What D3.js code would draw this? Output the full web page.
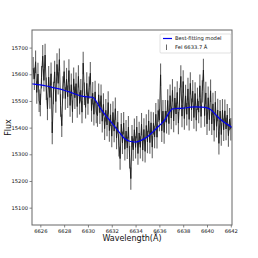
<!DOCTYPE html>
<html>
<head>
<meta charset="utf-8">
<script src="https://cdn.jsdelivr.net/npm/d3@7"></script>
<style>
  body { margin: 0; background: #fff; }
  text { font-family: "DejaVu Sans", sans-serif; }
</style>
</head>
<body>
<div id="chart"></div>
<script>
// spectrum, sampled every 0.1 A from 6625.4
var waveStart = 6625.4;
var waveStep = 0.1;
var flux = [
  15623, 15583, 15647, 15532, 15601, 15501, 15485, 15589, 15668, 15577,
  15672, 15546, 15470, 15589, 15513, 15602, 15380, 15530, 15609, 15498,
  15637, 15566, 15655, 15483, 15407, 15551, 15610, 15509, 15582, 15516,
  15614, 15483, 15561, 15460, 15583, 15512, 15565, 15479, 15592, 15491,
  15540, 15458, 15642, 15527, 15476, 15566, 15490, 15550, 15604, 15464,
  15529, 15450, 15534, 15458, 15445, 15523, 15456, 15520, 15424, 15487,
  15396, 15465, 15410, 15494, 15389, 15448, 15368, 15457, 15387, 15471,
  15361, 15420, 15334, 15284, 15413, 15343, 15417, 15319, 15387, 15324,
  15402, 15289, 15209, 15368, 15317, 15392, 15326, 15402, 15303, 15380,
  15326, 15413, 15316, 15393, 15311, 15408, 15346, 15425, 15344, 15418,
  15327, 15416, 15365, 15450, 15364, 15464, 15428, 15598, 15388, 15462,
  15382, 15462, 15420, 15502, 15415, 15520, 15436, 15540, 15425, 15511,
  15451, 15532, 15417, 15507, 15592, 15443, 15573, 15434, 15519, 15450,
  15545, 15431, 15566, 15467, 15537, 15438, 15528, 15428, 15508, 15458,
  15557, 15442, 15536, 15616, 15445, 15530, 15414, 15512, 15430, 15538,
  15414, 15489, 15390, 15495, 15405, 15466, 15341, 15462, 15374, 15465,
  15392, 15463, 15395, 15447, 15370, 15432, 15394
];
var fluxErr = 42;

// best-fitting model
var modelWave = [6625.3, 6625.5, 6626.0, 6626.5, 6627.0, 6627.5, 6628.0, 6628.5, 6629.0, 6629.5,
  6630.0, 6630.4, 6630.7, 6631.0, 6631.5, 6632.0, 6632.5, 6633.0, 6633.5, 6634.0,
  6634.5, 6635.0, 6635.5, 6636.0, 6636.5, 6636.8, 6637.1, 6637.5, 6638.0, 6638.5,
  6639.0, 6639.5, 6640.0, 6640.3, 6640.7, 6641.0, 6641.5, 6642.0, 6642.1];
var modelFlux = [15564, 15563, 15560, 15556, 15551, 15546, 15540, 15533, 15525, 15518,
  15515, 15514, 15498, 15476, 15445, 15418, 15390, 15362, 15349, 15346,
  15353, 15366, 15386, 15408, 15432, 15455, 15470, 15472, 15473, 15476,
  15478, 15477, 15474, 15468, 15450, 15436, 15418, 15404, 15400];

var xTicks = [6626, 6628, 6630, 6632, 6634, 6636, 6638, 6640, 6642];
var yTicks = [15100, 15200, 15300, 15400, 15500, 15600, 15700];

var w = 258;
var h = 258;
var margin = {left: 32, right: 26, top: 30, bottom: 33};

var svg = d3.select("#chart")
            .append("svg")
            .attr("width", w)
            .attr("height", h);

var x = d3.scaleLinear()
          .domain([6625.3, 6642.1])
          .range([margin.left, w - margin.right]);
var y = d3.scaleLinear()
          .domain([15035, 15766])
          .range([h - margin.bottom, margin.top]);

var points = flux.map(function(f, i) {
  return {wave: waveStart + i * waveStep, flux: f};
});

svg.append("defs").append("clipPath")
  .attr("id", "plot-clip")
  .append("rect")
  .attr("x", margin.left)
  .attr("y", margin.top)
  .attr("width", w - margin.left - margin.right)
  .attr("height", h - margin.top - margin.bottom);

var plot = svg.append("g").attr("clip-path", "url(#plot-clip)");

// error bars
plot.append("g")
  .selectAll("line")
  .data(points)
  .enter()
  .append("line")
  .attr("x1", function(d) { return x(d.wave); })
  .attr("x2", function(d) { return x(d.wave); })
  .attr("y1", function(d) { return y(d.flux - fluxErr); })
  .attr("y2", function(d) { return y(d.flux + fluxErr); })
  .attr("stroke", "#333")
  .attr("stroke-opacity", 0.75)
  .attr("stroke-width", 1.1);

plot.append("path")
  .datum(points)
  .attr("fill", "none")
  .attr("stroke", "#1a1a1a")
  .attr("stroke-width", 0.9)
  .attr("d", d3.line()
    .x(function(d) { return x(d.wave); })
    .y(function(d) { return y(d.flux); }));

plot.append("path")
  .datum(d3.zip(modelWave, modelFlux))
  .attr("fill", "none")
  .attr("stroke", "#0000ee")
  .attr("stroke-width", 1.2)
  .attr("d", d3.line()
    .curve(d3.curveMonotoneX)
    .x(function(d) { return x(d[0]); })
    .y(function(d) { return y(d[1]); }));

// axes
var xAxis = svg.append("g")
  .attr("transform", "translate(0," + (h - margin.bottom) + ")")
  .call(d3.axisBottom(x).tickValues(xTicks).tickSize(2.5).tickPadding(1.5).tickFormat(d3.format("d")));
var yAxis = svg.append("g")
  .attr("transform", "translate(" + margin.left + ",0)")
  .call(d3.axisLeft(y).tickValues(yTicks).tickSize(2.5).tickPadding(1.5).tickFormat(d3.format("d")));

[xAxis, yAxis].forEach(function(a) {
  a.select(".domain").remove();
  a.selectAll("line").attr("stroke", "#333").attr("stroke-width", 0.6);
  a.selectAll("text").attr("font-size", 5.2).attr("fill", "#111")
    .attr("font-family", "DejaVu Sans, sans-serif");
});

svg.append("rect")
  .attr("x", margin.left)
  .attr("y", margin.top)
  .attr("width", w - margin.left - margin.right)
  .attr("height", h - margin.top - margin.bottom)
  .attr("fill", "none")
  .attr("stroke", "#666")
  .attr("stroke-width", 1);

svg.append("text")
  .attr("x", (margin.left + w - margin.right) / 2)
  .attr("y", 241)
  .attr("text-anchor", "middle")
  .attr("font-size", 8)
  .attr("fill", "#111")
  .text("Wavelength(Å)");

svg.append("text")
  .attr("transform", "translate(11," + ((margin.top + h - margin.bottom) / 2) + ") rotate(-90)")
  .attr("text-anchor", "middle")
  .attr("font-size", 8)
  .attr("fill", "#111")
  .text("Flux");

// legend
var legend = svg.append("g").attr("transform", "translate(160,34)");
legend.append("rect")
  .attr("width", 71)
  .attr("height", 19)
  .attr("fill", "#fff")
  .attr("fill-opacity", 0.85)
  .attr("stroke", "#ccc")
  .attr("stroke-width", 0.6)
  .attr("rx", 1);
legend.append("line")
  .attr("x1", 3).attr("x2", 12)
  .attr("y1", 4.5).attr("y2", 4.5)
  .attr("stroke", "#0000ee")
  .attr("stroke-width", 1.2);
legend.append("line")
  .attr("x1", 6.5).attr("x2", 6.5)
  .attr("y1", 10.5).attr("y2", 16)
  .attr("stroke", "#555")
  .attr("stroke-width", 0.9);
legend.append("text")
  .attr("x", 15).attr("y", 6.3)
  .attr("font-size", 5.2)
  .attr("fill", "#111")
  .text("Best-fitting model");
legend.append("text")
  .attr("x", 15).attr("y", 15)
  .attr("font-size", 5.2)
  .attr("fill", "#111")
  .text("FeI 6633.7 Å");
</script>
</body>
</html>
